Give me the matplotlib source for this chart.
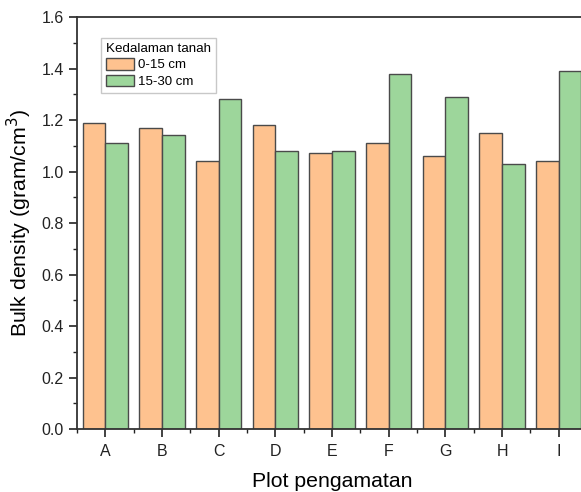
import numpy as np
import matplotlib
matplotlib.use("Agg")
import matplotlib.pyplot as plt
from matplotlib.ticker import MultipleLocator

plt.rcParams['font.family'] = ['Liberation Sans', 'DejaVu Sans']

# data
plots = ['A', 'B', 'C', 'D', 'E', 'F', 'G', 'H', 'I']
depth_0_15 = [1.19, 1.17, 1.04, 1.18, 1.07, 1.11, 1.06, 1.15, 1.04]
depth_15_30 = [1.11, 1.14, 1.28, 1.08, 1.08, 1.38, 1.29, 1.03, 1.39]
series_names = ['0-15 cm', '15-30 cm']

orange = '#FEC28F'
green = '#9DD69B'
edge = '#4a4a4a'

fig = plt.figure(figsize=(5.81, 4.92), dpi=100)
ax = fig.add_axes([0.1325, 0.128, 0.878, 0.8374])

x = np.arange(len(plots))
w = 0.4
ax.bar(x - w/2, depth_0_15, w, color=orange, edgecolor=edge, linewidth=1.0, label=series_names[0])
ax.bar(x + w/2, depth_15_30, w, color=green, edgecolor=edge, linewidth=1.0, label=series_names[1])

ax.set_xlim(-0.5, 8.5)
ax.set_ylim(0, 1.6)
ax.set_xticks(x)
ax.set_xticklabels(plots)
ax.xaxis.set_minor_locator(MultipleLocator(1, offset=0.5))
ax.yaxis.set_major_locator(MultipleLocator(0.2))
ax.yaxis.set_minor_locator(MultipleLocator(0.1))
ax.yaxis.set_major_formatter(plt.FuncFormatter(lambda v, p: f'{v:.1f}'))

ax.tick_params(which='major', direction='out', length=6, width=1.2, labelsize=11.5, colors='#222222')
ax.tick_params(which='minor', direction='out', length=3, width=1.0, colors='#222222')
ax.tick_params(axis='x', which='major', pad=5)
for s in ax.spines.values():
    s.set_linewidth(1.3)
    s.set_color('#333333')

ax.set_xlabel('Plot pengamatan', fontsize=15.3, labelpad=9)
ax.set_ylabel('Bulk density (gram/cm$^3$)', fontsize=15.3, labelpad=5)

leg = ax.legend(title='Kedalaman tanah', loc='upper left', bbox_to_anchor=(0.048, 0.949),
                fontsize=9.5, title_fontsize=9.6, frameon=True, fancybox=False,
                handlelength=2.15, handleheight=1.0, handletextpad=0.3,
                borderpad=0.35, labelspacing=0.25, borderaxespad=0)
leg.get_frame().set_edgecolor('#bbbbbb')
leg.get_frame().set_linewidth(1.0)
leg._legend_box.align = 'left'

fig.savefig('out.png', dpi=100)
